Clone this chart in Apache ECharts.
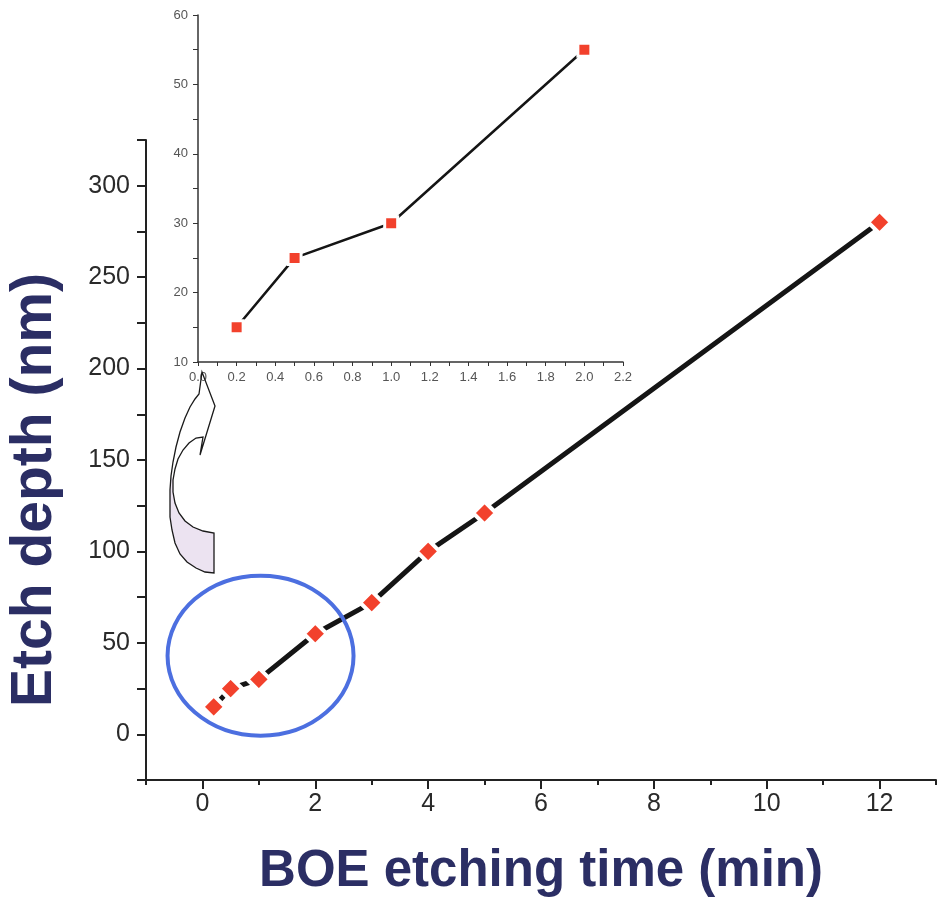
<!DOCTYPE html>
<html>
<head>
<meta charset="utf-8">
<title>BOE etch depth</title>
<script src="https://cdn.jsdelivr.net/npm/echarts@6/dist/echarts.min.js"></script>
<style>
  html, body { margin: 0; padding: 0; background: #fff; }
  #chart { width: 939px; height: 902px; }
</style>
</head>
<body>
<div id="chart"></div>
<script>
// main plot data (min, nm)
var mainTime = [0.2, 0.5, 1, 2, 3, 4, 5, 12];
var mainDepth = [15, 25, 30, 55, 72, 100, 121, 280];
// inset (zoom of first 2 minutes)
var insetTime = [0.2, 0.5, 1, 2];
var insetDepth = [15, 25, 30, 55];
// labelled ticks
var mainXTicks = [0, 2, 4, 6, 8, 10, 12];
var mainYTicks = [0, 50, 100, 150, 200, 250, 300];
var insetXTicks = [0, 0.2, 0.4, 0.6, 0.8, 1.0, 1.2, 1.4, 1.6, 1.8, 2.0, 2.2];
var insetYTicks = [10, 20, 30, 40, 50, 60];

var navy = "#2b2e64";
var red = "#f2412c";
var font = "Liberation Sans, Arial, sans-serif";

function pairs(xs, ys) {
  return xs.map(function (x, i) { return [x, ys[i]]; });
}
function hasTick(list, v) {
  return list.some(function (t) { return Math.abs(t - v) < 1e-6; });
}

var chart = echarts.init(document.getElementById("chart"));

var option = {
  animation: false,
  backgroundColor: "#fff",
  grid: [
    // main plot
    { left: 146, top: 140, width: 796, height: 642 },
    // inset
    { left: 198, top: 15, width: 425, height: 347 }
  ],
  xAxis: [
    {
      gridIndex: 0, type: "value", min: -1, max: 13, interval: 1, position: "bottom",
      splitLine: { show: false },
      axisLine: { onZero: false, lineStyle: { color: "#222", width: 2 } },
      axisTick: { length: 5, lineStyle: { color: "#222", width: 2 } },
      axisLabel: {
        margin: 12, fontSize: 25, color: "#2a2a2a", fontFamily: font,
        formatter: function (v) { return hasTick(mainXTicks, v) ? String(v) : ""; }
      },
      name: "BOE etching time (min)",
      nameLocation: "middle",
      nameGap: 66,
      nameTextStyle: { fontSize: 51, fontWeight: "bold", color: navy, fontFamily: font }
    },
    {
      // longer ticks for the labelled values
      gridIndex: 0, type: "value", min: -1, max: 13, position: "bottom",
      splitLine: { show: false },
      axisLine: { show: false, onZero: false },
      axisLabel: { show: false },
      axisTick: { customValues: mainXTicks, length: 9, lineStyle: { color: "#222", width: 2 } }
    },
    {
      gridIndex: 1, type: "value", min: 0, max: 2.2, interval: 0.1, position: "bottom",
      splitLine: { show: false },
      axisLine: { onZero: false, lineStyle: { color: "#333", width: 1.5 } },
      axisTick: { length: 4, lineStyle: { color: "#333" } },
      axisLabel: {
        margin: 9, fontSize: 13, color: "#555", fontFamily: font,
        formatter: function (v) { return hasTick(insetXTicks, v) ? v.toFixed(1) : ""; }
      }
    }
  ],
  yAxis: [
    {
      gridIndex: 0, type: "value", min: -25, max: 325, interval: 25, position: "left",
      splitLine: { show: false },
      axisLine: { onZero: false, lineStyle: { color: "#222", width: 2 } },
      axisTick: { length: 9, lineStyle: { color: "#222", width: 2 } },
      axisLabel: {
        margin: 16, fontSize: 25, color: "#2a2a2a", fontFamily: font,
        formatter: function (v) { return hasTick(mainYTicks, v) ? String(v) : ""; }
      }
    },
    {
      gridIndex: 1, type: "value", min: 10, max: 60, interval: 5, position: "left",
      splitLine: { show: false },
      axisLine: { onZero: false, lineStyle: { color: "#333", width: 1.5 } },
      axisTick: { length: 5, lineStyle: { color: "#333" } },
      axisLabel: {
        margin: 10, fontSize: 13, color: "#555", fontFamily: font,
        formatter: function (v) { return hasTick(insetYTicks, v) ? String(v) : ""; }
      }
    }
  ],
  series: [
    {
      type: "line",
      xAxisIndex: 0, yAxisIndex: 0,
      data: pairs(mainTime, mainDepth),
      symbol: "diamond",
      symbolSize: 23,
      itemStyle: { color: red, borderColor: "#fff", borderWidth: 4 },
      lineStyle: { color: "#151515", width: 5 },
      z: 3
    },
    {
      type: "line",
      xAxisIndex: 2, yAxisIndex: 1,
      data: pairs(insetTime, insetDepth),
      symbol: "rect",
      symbolSize: 13,
      itemStyle: { color: red, borderColor: "#fff", borderWidth: 3 },
      lineStyle: { color: "#151515", width: 2.5 },
      z: 3
    }
  ]
};
chart.setOption(option);

// annotations: y title, circle around the zoomed region, curved arrow to the inset
var c = chart.convertToPixel({ xAxisIndex: 0, yAxisIndex: 0 }, [1.03, 43]);

var arrowOutline = [
  [214, 533], [214, 573], [205, 572], [196, 568], [187, 562], [180, 554], [175, 543],
  [172, 530], [170, 517], [170, 503], [170, 490], [171, 476], [173, 462], [176, 447],
  [180, 432], [185, 418], [190, 407], [195, 399], [199, 394],
  [202, 372], [215, 406], [200, 455], [203, 437],
  [196, 438], [189, 443], [183, 450], [178, 459], [175, 469], [173, 480], [173, 492],
  [175, 503], [179, 513], [185, 521], [193, 527], [203, 531]
];
var arrowBack = [
  [171, 476], [170, 490], [170, 503], [170, 517], [172, 530], [175, 543], [180, 554],
  [187, 562], [196, 568], [205, 572], [214, 573], [214, 533], [203, 531], [193, 527],
  [185, 521], [179, 513], [175, 503], [173, 492], [173, 480]
];

chart.setOption({
  graphic: [
    {
      type: "text",
      x: 35, y: 490,
      rotation: Math.PI / 2,
      style: {
        text: "Etch depth (nm)",
        fontSize: 57, fontWeight: "bold", fontFamily: font,
        fill: navy, align: "center", verticalAlign: "middle"
      }
    },
    {
      type: "ellipse",
      shape: { cx: c[0], cy: c[1], rx: 93, ry: 80 },
      style: { fill: "none", stroke: "#4c6fe0", lineWidth: 4 },
      z: 10
    },
    {
      type: "polygon",
      shape: { points: arrowBack },
      style: { fill: "#ece3f1", stroke: "none" },
      z: 10
    },
    {
      type: "polygon",
      shape: { points: arrowOutline },
      style: { fill: "none", stroke: "#1a1a1a", lineWidth: 1.3 },
      z: 11
    }
  ]
});
</script>
</body>
</html>
